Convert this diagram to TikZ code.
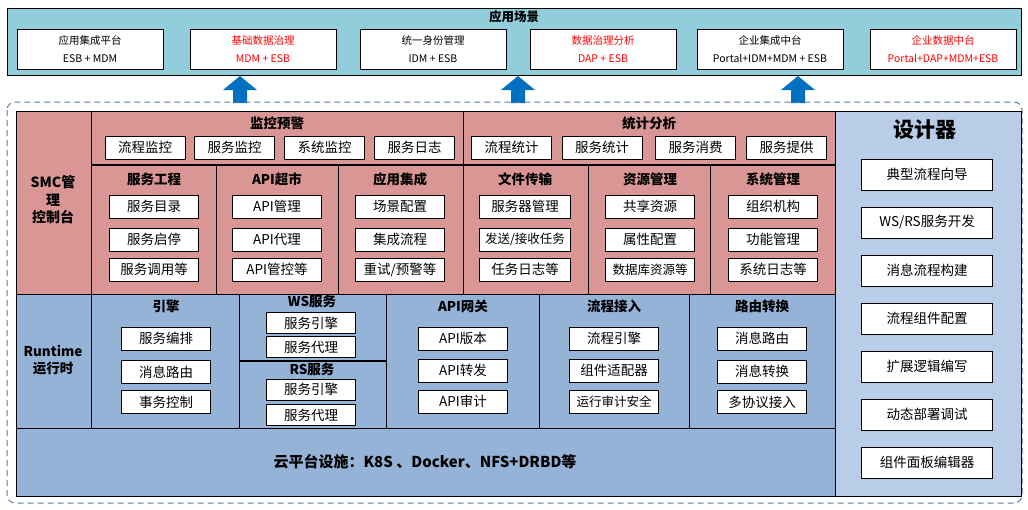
\documentclass[tikz,border=0pt]{standalone}
\usepackage{fontspec}
\setmainfont{Noto Sans CJK SC}
\begin{document}
\begin{tikzpicture}[x=1pt,y=-1pt,
  bx/.style={draw=black,fill=white,line width=0.8pt,minimum width=89pt,minimum height=23pt,inner sep=0pt,font=\fontsize{13.5}{13.5}\selectfont},
  tb/.style={draw=black,fill=white,line width=0.8pt,minimum width=146pt,minimum height=40pt,inner sep=0pt,align=center,font=\fontsize{10.5}{18}\selectfont},
  dz/.style={draw=black,fill=white,line width=0.8pt,minimum width=131pt,minimum height=31pt,inner sep=0pt,font=\fontsize{13.5}{13.5}\selectfont},
  ttl/.style={font=\bfseries\fontsize{13.5}{13.5}\selectfont,inner sep=0pt},
  line/.style={draw=black,line width=0.8pt}]
\definecolor{topblue}{HTML}{92CDDC}
\definecolor{pinkc}{HTML}{D99694}
\definecolor{rtblue}{HTML}{95B3D7}
\definecolor{dzblue}{HTML}{B9CDE9}
\definecolor{arrblue}{HTML}{0070C0}
\definecolor{dashc}{HTML}{5A7BA6}
\useasboundingbox (0,0) rectangle (1028,509);
% top
\draw[fill=topblue,line width=1pt] (7,8) rectangle (1021,75);
\node[ttl,font=\bfseries\fontsize{12.5}{12.5}\selectfont] (appt) at (514,17) {应用场景};
\node[tb] (a1) at (90,49) {应用集成平台\\ESB + MDM};
\node[tb,text=red] (a2) at (263,49) {基础数据治理\\MDM + ESB};
\node[tb] (a3) at (433,49) {统一身份管理\\IDM + ESB};
\node[tb,text=red] (a4) at (603,49) {数据治理分析\\DAP + ESB};
\node[tb] (a5) at (770,49) {企业集成中台\\Portal+IDM+MDM + ESB};
\node[tb,text=red] (a6) at (943,49) {企业数据中台\\Portal+DAP+MDM+ESB};
% arrows
\foreach \c in {240,518,798}{
 \fill[arrblue] (\c-7,103) -- (\c-7,90) -- (\c-17,90) -- (\c,76) -- (\c+17,90) -- (\c+7,90) -- (\c+7,103) -- cycle;}
% dashed frame
\draw[dashc,dash pattern=on 6pt off 4pt,line width=1pt,rounded corners=8pt] (7,102) rectangle (1022,503);
% fills
\fill[pinkc] (16,111) rectangle (835,294);
\fill[rtblue] (16,294) rectangle (835,496);
\fill[dzblue] (835,111) rectangle (1021,496);
% lines
\draw[line] (16,111) rectangle (1021,496);
\draw[line] (835,111) -- (835,496);
\draw[line] (16,294) -- (835,294);
\draw[line] (16,428) -- (835,428);
\draw[line] (91,111) -- (91,428);
\draw[line,line width=1.5pt] (91,165) -- (835,165);
\draw[line] (463,111) -- (463,294);
\foreach \x in {216,338,588,710}{\draw[line] (\x,165) -- (\x,294);}
\foreach \x in {239,386,539,689}{\draw[line] (\x,294) -- (\x,428);}
\draw[line,line width=1.8pt] (239,361) -- (386,361);
% left labels
\node[font=\bfseries\fontsize{14}{17.5}\selectfont,align=center] (smc) at (53,200) {SMC管\\理\\控制台};
\node[font=\bfseries\fontsize{13.5}{17}\selectfont,align=center] (rt) at (53,360) {Runtime\\运行时};
% monitor
\node[ttl] (m) at (277,123) {监控预警};
\node[ttl] (s) at (649,123) {统计分析};
\node[bx,minimum width=80pt] (m1) at (145,147.5) {流程监控};
\node[bx,minimum width=80pt] (m2) at (234.5,147.5) {服务监控};
\node[bx,minimum width=80pt] (m3) at (324.5,147.5) {系统监控};
\node[bx,minimum width=80pt] (m4) at (414.5,147.5) {服务日志};
\node[bx,minimum width=80pt] (s1) at (511.5,147.5) {流程统计};
\node[bx,minimum width=80pt] (s2) at (602,147.5) {服务统计};
\node[bx,minimum width=80pt] (s3) at (695.5,147.5) {服务消费};
\node[bx,minimum width=80pt] (s4) at (786.5,147.5) {服务提供};
% smc columns
\node[ttl] (c1) at (154,179) {服务工程};
\node[ttl] (c2) at (277,179) {API超市};
\node[ttl] (c3) at (400,179) {应用集成};
\node[ttl] (c4) at (525,179) {文件传输};
\node[ttl] (c5) at (650,179) {资源管理};
\node[ttl] (c6) at (773,179) {系统管理};
\node[bx] (c1a) at (154,206.5) {服务目录};
\node[bx] (c1b) at (154,239.5) {服务启停};
\node[bx] (c1c) at (154,269.5) {服务调用等};
\node[bx] (c2a) at (277,206.5) {API管理};
\node[bx] (c2b) at (277,239.5) {API代理};
\node[bx] (c2c) at (277,269.5) {API管控等};
\node[bx] (c3a) at (400,206.5) {场景配置};
\node[bx] (c3b) at (400,239.5) {集成流程};
\node[bx] (c3c) at (400,269.5) {重试/预警等};
\node[bx,minimum width=91pt] (c4a) at (525,206.5) {服务器管理};
\node[bx,minimum width=91pt,font=\fontsize{12.5}{12.5}\selectfont] (c4b) at (525,239.5) {发送/接收任务};
\node[bx,minimum width=91pt] (c4c) at (525,269.5) {任务日志等};
\node[bx] (c5a) at (650,206.5) {共享资源};
\node[bx] (c5b) at (650,239.5) {属性配置};
\node[bx,font=\fontsize{12.5}{12.5}\selectfont] (c5c) at (650,269.5) {数据库资源等};
\node[bx] (c6a) at (773,206.5) {组织机构};
\node[bx] (c6b) at (773,239.5) {功能管理};
\node[bx] (c6c) at (773,269.5) {系统日志等};
% runtime
\node[ttl] (r1) at (166,306) {引擎};
\node[bx] (r1a) at (166,338.5) {服务编排};
\node[bx] (r1b) at (166,372) {消息路由};
\node[bx] (r1c) at (166,402) {事务控制};
\node[ttl] (ws) at (312,301) {WS服务};
\node[bx,minimum height=21pt] (wsa) at (311,323) {服务引擎};
\node[bx,minimum height=21pt] (wsb) at (311,347) {服务代理};
\node[ttl] (rs) at (312,369) {RS服务};
\node[bx,minimum height=21pt] (rsa) at (311,389.5) {服务引擎};
\node[bx,minimum height=21pt] (rsb) at (311,415) {服务代理};
\node[ttl] (r3) at (463,306) {API网关};
\node[bx] (r3a) at (463,338.5) {API版本};
\node[bx] (r3b) at (463,370.5) {API转发};
\node[bx] (r3c) at (463,401.5) {API审计};
\node[ttl] (r4) at (614,306) {流程接入};
\node[bx] (r4a) at (614,338.5) {流程引擎};
\node[bx] (r4b) at (614,370.5) {组件适配器};
\node[bx,font=\fontsize{12.5}{12.5}\selectfont] (r4c) at (614,401.5) {运行审计安全};
\node[ttl] (r5) at (762,306) {路由转换};
\node[bx] (r5a) at (762,338.5) {消息路由};
\node[bx] (r5b) at (762,371.5) {消息转换};
\node[bx] (r5c) at (762,402) {多协议接入};
% cloud
\node[font=\bfseries\fontsize{15}{15}\selectfont] (cloud) at (425,462) {云平台设施：K8S 、Docker、NFS+DRBD等};
% designer
\node[font=\bfseries\fontsize{21}{21}\selectfont] (dz) at (925,130) {设计器};
\node[dz] (d1) at (927,174.5) {典型流程向导};
\node[dz] (d2) at (927,222.5) {WS/RS服务开发};
\node[dz] (d3) at (927,270.5) {消息流程构建};
\node[dz] (d4) at (927,318.5) {流程组件配置};
\node[dz] (d5) at (927,366.5) {扩展逻辑编写};
\node[dz] (d6) at (927,414.5) {动态部署调试};
\node[dz] (d7) at (927,462.5) {组件面板编辑器};
\end{tikzpicture}
\end{document}
